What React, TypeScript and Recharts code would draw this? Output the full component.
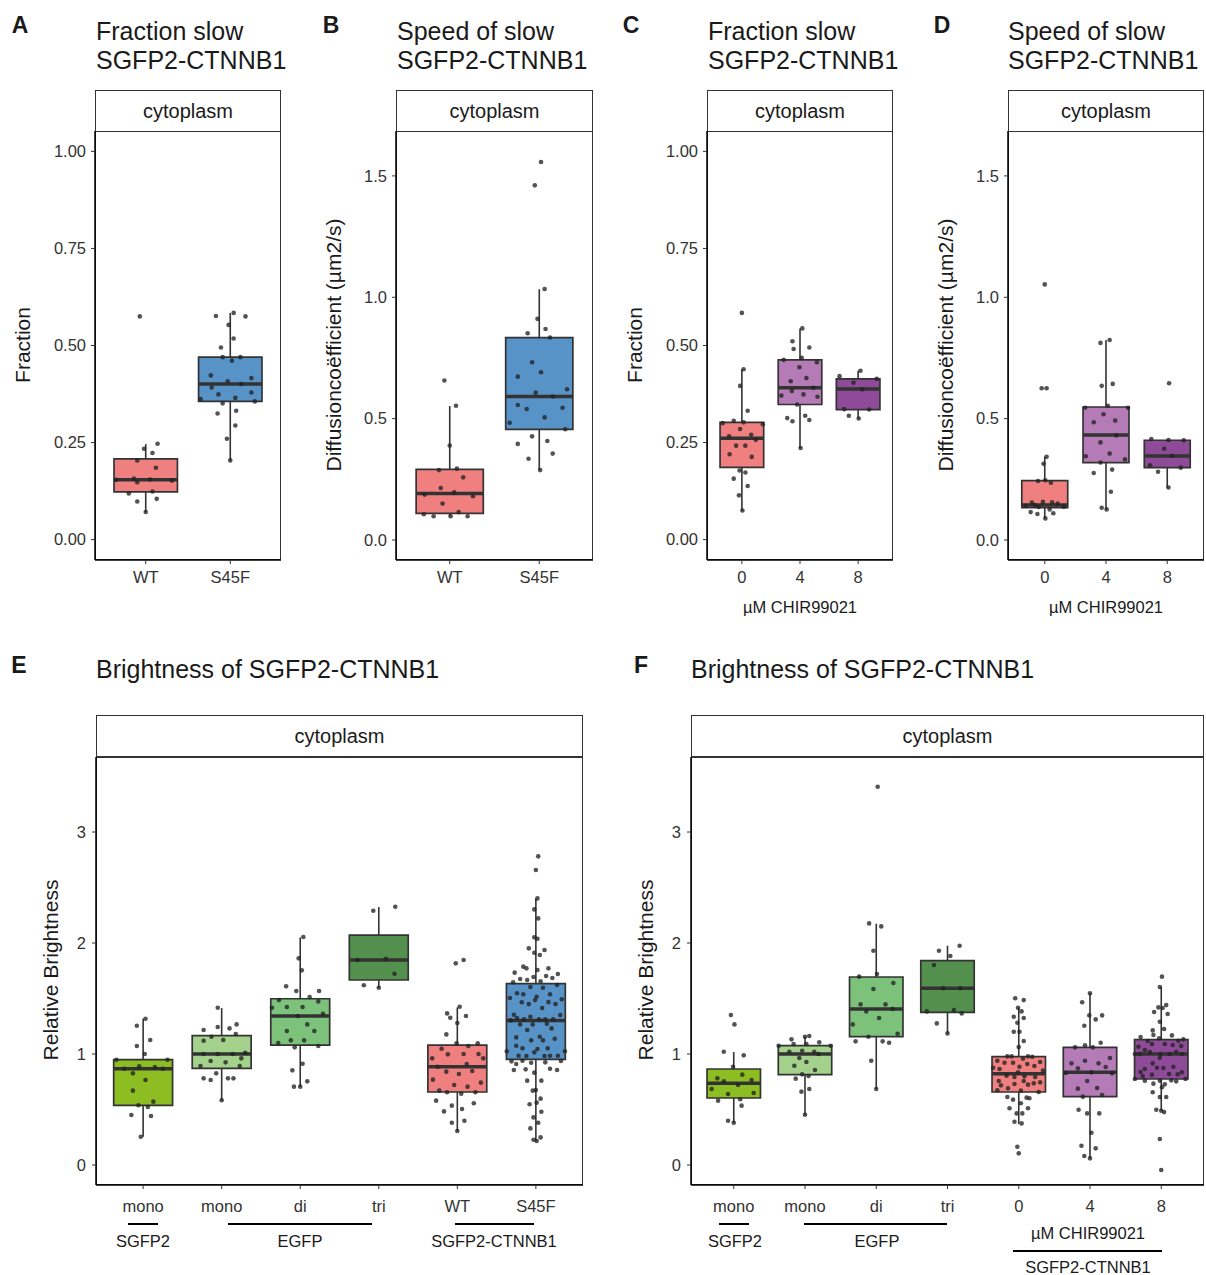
import React from 'react';
import { ComposedChart, XAxis, YAxis, Scatter, ReferenceArea, ReferenceLine } from 'recharts';

// box stats: [lower whisker, q1, median, q3, upper whisker]
type Stat = [number, number, number, number, number];
// jittered point: [horizontal offset in category units, value]
type Pt = [number, number];

const RED = '#F08080';
const BLUE = '#5893C8';
const PURPLE_LIGHT = '#B47BB6';
const PURPLE_DARK = '#8E4B98';
const GREEN_SGFP2 = '#8CBD22';
const GREEN_MONO = '#A4D28C';
const GREEN_DI = '#7DC27B';
const GREEN_TRI = '#53904E';

const mutCats = ['WT', 'S45F'];
const chirCats = ['0', '4', '8'];
const brightMutCats = ['mono', 'mono', 'di', 'tri', 'WT', 'S45F'];
const brightChirCats = ['mono', 'mono', 'di', 'tri', '0', '4', '8'];

// A: fraction slow, WT vs S45F
const fracMutStats: Stat[] = [
    [0.071, 0.123, 0.154, 0.208, 0.246],
    [0.204, 0.356, 0.401, 0.47, 0.584],
];
const fracMutPoints: Pt[][] = [
    [[-0.07, 0.575], [-0.02, 0.234], [0.14, 0.247], [0.08, 0.223], [-0.1, 0.204], [0.12, 0.185], [-0.35, 0.154], [-0.14, 0.157], [-0.1, 0.148], [0.05, 0.155], [0.31, 0.152], [-0.2, 0.119], [0.08, 0.124], [0.13, 0.105], [-0.1, 0.098], [0.0, 0.071]],
    [[-0.17, 0.576], [0.04, 0.584], [0.18, 0.575], [-0.02, 0.553], [0.04, 0.518], [-0.11, 0.495], [-0.09, 0.47], [0.12, 0.47], [0.02, 0.461], [-0.23, 0.423], [-0.03, 0.408], [0.25, 0.416], [0.13, 0.401], [-0.22, 0.392], [-0.14, 0.374], [-0.35, 0.362], [0.06, 0.365], [0.25, 0.379], [0.29, 0.356], [-0.09, 0.351], [-0.15, 0.325], [0.07, 0.332], [0.06, 0.294], [-0.04, 0.26], [0.0, 0.204]],
];

// B: speed of slow, WT vs S45F
const speedMutStats: Stat[] = [
    [0.098, 0.11, 0.192, 0.291, 0.552],
    [0.288, 0.456, 0.591, 0.834, 1.033],
];
const speedMutPoints: Pt[][] = [
    [[-0.06, 0.657], [0.07, 0.553], [0.0, 0.389], [-0.12, 0.288], [0.08, 0.294], [0.15, 0.258], [-0.1, 0.214], [0.05, 0.196], [-0.28, 0.187], [0.26, 0.18], [-0.08, 0.15], [0.1, 0.115], [-0.29, 0.106], [-0.18, 0.098], [0.01, 0.098], [0.2, 0.098]],
    [[0.02, 1.557], [-0.05, 1.461], [0.06, 1.034], [-0.02, 0.911], [0.07, 0.869], [-0.13, 0.852], [0.12, 0.834], [-0.08, 0.732], [0.02, 0.691], [-0.24, 0.673], [0.31, 0.621], [-0.04, 0.607], [0.15, 0.591], [-0.24, 0.556], [-0.14, 0.54], [0.26, 0.545], [0.06, 0.505], [-0.33, 0.483], [0.29, 0.456], [-0.08, 0.427], [-0.24, 0.396], [0.09, 0.408], [0.15, 0.356], [-0.12, 0.335], [0.01, 0.288]],
];

// C: fraction slow, CHIR99021 dose
const fracChirStats: Stat[] = [
    [0.075, 0.186, 0.261, 0.302, 0.439],
    [0.236, 0.348, 0.391, 0.463, 0.544],
    [0.312, 0.335, 0.388, 0.414, 0.435],
];
const fracChirPoints: Pt[][] = [
    [[0.0, 0.584], [0.03, 0.439], [-0.03, 0.396], [0.1, 0.332], [-0.14, 0.306], [0.03, 0.302], [-0.33, 0.3], [0.36, 0.297], [-0.03, 0.285], [-0.22, 0.266], [0.16, 0.27], [0.24, 0.257], [-0.1, 0.242], [0.06, 0.242], [-0.21, 0.22], [0.17, 0.213], [-0.04, 0.178], [0.06, 0.173], [-0.14, 0.157], [0.1, 0.138], [-0.05, 0.114], [0.01, 0.075]],
    [[0.04, 0.544], [-0.13, 0.511], [-0.11, 0.491], [0.16, 0.495], [-0.28, 0.463], [0.03, 0.468], [0.29, 0.457], [-0.01, 0.444], [0.11, 0.416], [-0.16, 0.408], [0.23, 0.391], [-0.14, 0.383], [-0.32, 0.371], [0.06, 0.374], [0.3, 0.368], [-0.05, 0.348], [-0.22, 0.313], [-0.13, 0.305], [0.09, 0.319], [0.16, 0.308], [0.01, 0.236]],
    [[0.04, 0.435], [-0.32, 0.421], [0.32, 0.414], [-0.08, 0.404], [0.07, 0.387], [-0.24, 0.336], [0.19, 0.335], [-0.16, 0.319], [0.01, 0.312]],
];

// D: speed of slow, CHIR99021 dose
const speedChirStats: Stat[] = [
    [0.089, 0.133, 0.144, 0.245, 0.343],
    [0.126, 0.319, 0.433, 0.548, 0.824],
    [0.216, 0.298, 0.346, 0.411, 0.412],
];
const speedChirPoints: Pt[][] = [
    [[0.0, 1.053], [-0.05, 0.625], [0.03, 0.625], [0.03, 0.343], [-0.02, 0.314], [-0.11, 0.243], [0.01, 0.246], [0.1, 0.236], [-0.21, 0.154], [-0.03, 0.157], [0.12, 0.155], [0.21, 0.15], [-0.31, 0.141], [-0.16, 0.144], [0.31, 0.137], [-0.1, 0.136], [0.08, 0.126], [-0.23, 0.115], [-0.12, 0.107], [0.14, 0.11], [0.01, 0.089]],
    [[0.06, 0.824], [-0.09, 0.812], [-0.07, 0.635], [0.11, 0.643], [0.03, 0.553], [-0.34, 0.545], [0.36, 0.545], [-0.04, 0.518], [-0.2, 0.485], [0.15, 0.492], [0.17, 0.431], [-0.09, 0.402], [0.06, 0.356], [-0.33, 0.345], [0.31, 0.332], [-0.09, 0.319], [-0.2, 0.276], [0.1, 0.29], [0.08, 0.199], [-0.07, 0.133], [0.01, 0.126]],
    [[0.03, 0.646], [-0.26, 0.416], [0.02, 0.412], [0.27, 0.411], [-0.05, 0.376], [0.08, 0.347], [-0.28, 0.308], [0.22, 0.298], [-0.15, 0.281], [0.02, 0.216]],
];

// E: brightness, controls + WT / S45F
const brightMutStats: Stat[] = [
    [0.255, 0.538, 0.868, 0.949, 1.318],
    [0.583, 0.871, 1.0, 1.165, 1.414],
    [0.706, 1.081, 1.342, 1.498, 2.051],
    [1.597, 1.667, 1.847, 2.072, 2.324],
    [0.306, 0.658, 0.886, 1.081, 1.42],
    [0.216, 0.952, 1.303, 1.634, 2.402],
];
const brightMutPoints: Pt[][] = [
    [[0.03, 1.318], [-0.08, 1.255], [0.09, 1.126], [-0.08, 1.072], [0.02, 1.0], [-0.34, 0.949], [0.31, 0.949], [-0.24, 0.868], [-0.05, 0.889], [0.15, 0.883], [0.25, 0.868], [-0.13, 0.826], [0.03, 0.766], [-0.13, 0.67], [0.13, 0.571], [-0.06, 0.538], [0.06, 0.523], [-0.15, 0.45], [0.1, 0.441], [-0.03, 0.255]],
    [[-0.05, 1.417], [-0.23, 1.216], [-0.05, 1.243], [0.1, 1.231], [0.19, 1.267], [-0.13, 1.156], [0.18, 1.18], [-0.23, 1.12], [0.02, 1.126], [-0.23, 1.0], [-0.05, 1.0], [0.14, 1.0], [0.3, 1.012], [0.25, 0.961], [-0.14, 0.937], [0.05, 0.925], [-0.27, 0.892], [0.23, 0.892], [-0.07, 0.826], [-0.23, 0.781], [-0.14, 0.766], [0.08, 0.781], [0.15, 0.781], [0.0, 0.583]],
    [[0.04, 2.054], [-0.02, 1.862], [0.02, 1.754], [-0.18, 1.61], [-0.05, 1.568], [0.24, 1.568], [0.12, 1.514], [-0.27, 1.486], [0.23, 1.474], [-0.36, 1.417], [-0.17, 1.423], [0.03, 1.423], [0.29, 1.363], [-0.03, 1.342], [0.09, 1.267], [-0.17, 1.207], [0.18, 1.207], [-0.12, 1.123], [0.05, 1.123], [-0.28, 1.099], [-0.07, 1.06], [0.23, 1.072], [-0.1, 0.853], [0.03, 0.913], [-0.08, 0.706], [0.0, 0.706], [0.09, 0.754]],
    [[0.21, 2.327], [-0.07, 2.291], [-0.27, 1.847], [0.09, 1.859], [0.2, 1.723], [-0.19, 1.619], [0.0, 1.597]],
    [[-0.02, 1.817], [0.08, 1.847], [0.03, 1.426], [-0.13, 1.366], [-0.09, 1.327], [0.11, 1.342], [0.0, 1.279], [-0.14, 1.177], [-0.01, 1.096], [0.26, 1.096], [-0.2, 1.048], [0.14, 1.072], [-0.32, 0.961], [-0.12, 0.997], [0.08, 1.0], [0.27, 1.0], [0.33, 0.961], [-0.25, 0.886], [0.12, 0.91], [-0.14, 0.841], [0.02, 0.82], [0.19, 0.847], [-0.31, 0.769], [-0.04, 0.721], [0.13, 0.706], [0.3, 0.742], [-0.23, 0.67], [-0.13, 0.655], [0.05, 0.643], [0.23, 0.655], [-0.27, 0.58], [-0.07, 0.535], [0.21, 0.556], [-0.17, 0.483], [0.06, 0.505], [-0.07, 0.381], [0.09, 0.399], [0.0, 0.306]],
    [[0.03, 2.781], [0.0, 2.658], [0.02, 2.402], [-0.02, 2.303], [0.03, 2.222], [-0.02, 2.051], [0.02, 2.039], [-0.09, 1.952], [0.11, 1.937], [-0.02, 1.913], [0.05, 1.892], [-0.16, 1.787], [-0.27, 1.733], [-0.12, 1.772], [0.02, 1.757], [0.16, 1.772], [0.28, 1.721], [-0.2, 1.676], [-0.11, 1.667], [-0.03, 1.694], [0.13, 1.703], [0.21, 1.685], [-0.29, 1.646], [0.06, 1.655],
     [-0.07, 1.604], [0.09, 1.597], [0.27, 1.622], [-0.33, 1.505], [-0.24, 1.547], [-0.16, 1.538], [0.01, 1.516], [0.18, 1.538], [0.33, 1.493], [-0.18, 1.466], [-0.09, 1.45], [-0.01, 1.486], [0.16, 1.468], [0.25, 1.45], [0.08, 1.414], [-0.28, 1.354], [-0.24, 1.324], [-0.15, 1.312], [-0.07, 1.336], [0.04, 1.312], [0.12, 1.312], [0.22, 1.312], [0.31, 1.351], [-0.32, 1.303], [-0.2, 1.267], [-0.04, 1.267], [0.14, 1.273], [-0.11, 1.216], [0.2, 1.231], [0.05, 1.156], [0.09, 1.123], [-0.25, 1.15], [-0.06, 1.123], [0.24, 1.138], [-0.25, 1.075], [-0.17, 1.051], [0.02, 1.045], [0.15, 1.051], [-0.02, 1.015], [-0.37, 1.024], [0.37, 1.024], [-0.22, 0.985], [-0.12, 0.982], [0.11, 0.982], [0.18, 0.985], [0.28, 0.985],
     [-0.31, 0.934], [-0.25, 0.91], [-0.17, 0.94], [-0.06, 0.922], [0.12, 0.925], [0.32, 0.937], [-0.28, 0.856], [-0.13, 0.862], [-0.02, 0.832], [0.18, 0.868], [0.27, 0.856], [-0.11, 0.76], [0.07, 0.76], [0.0, 0.676], [-0.04, 0.67], [0.06, 0.598], [0.01, 0.562], [-0.08, 0.547], [0.07, 0.48], [-0.03, 0.429], [0.03, 0.381], [-0.07, 0.33], [0.06, 0.249], [-0.03, 0.228], [0.01, 0.216]],
];

// F: brightness, controls + CHIR99021 dose
const brightChirStats: Stat[] = [
    [0.381, 0.604, 0.736, 0.865, 1.018],
    [0.453, 0.814, 1.0, 1.075, 1.156],
    [0.685, 1.156, 1.405, 1.694, 2.174],
    [1.186, 1.375, 1.592, 1.841, 1.976],
    [0.369, 0.658, 0.823, 0.976, 1.417],
    [0.06, 0.616, 0.835, 1.06, 1.547],
    [0.489, 0.775, 1.0, 1.129, 1.604],
];
const brightChirPoints: Pt[][] = [
    [[-0.04, 1.351], [0.01, 1.267], [-0.14, 1.021], [0.14, 0.988], [-0.01, 0.886], [-0.23, 0.781], [0.12, 0.814], [-0.14, 0.754], [0.25, 0.766], [0.06, 0.721], [-0.31, 0.685], [-0.08, 0.64], [0.28, 0.649], [-0.22, 0.58], [0.09, 0.592], [0.11, 0.535], [-0.08, 0.399], [0.0, 0.381]],
    [[-0.19, 1.132], [0.06, 1.162], [0.0, 1.156], [-0.16, 1.09], [0.02, 1.09], [0.2, 1.105], [-0.37, 1.075], [0.36, 1.075], [-0.22, 1.021], [-0.04, 1.03], [0.13, 1.021], [0.19, 1.0], [-0.08, 0.964], [0.02, 0.928], [-0.15, 0.895], [0.14, 0.856], [-0.04, 0.817], [0.05, 0.802], [-0.13, 0.778], [-0.05, 0.661], [0.06, 0.685], [0.0, 0.453]],
    [[0.02, 3.408], [-0.1, 2.177], [0.07, 2.15], [-0.04, 1.931], [0.01, 1.721], [-0.24, 1.697], [0.24, 1.64], [-0.04, 1.586], [-0.22, 1.447], [0.13, 1.447], [-0.14, 1.384], [0.23, 1.405], [0.04, 1.324], [-0.33, 1.267], [0.3, 1.183], [-0.11, 1.156], [-0.29, 1.114], [0.09, 1.114], [0.18, 1.102], [-0.07, 0.94], [0.0, 0.685]],
    [[0.17, 1.976], [-0.12, 1.931], [0.04, 1.883], [-0.19, 1.802], [-0.06, 1.592], [0.18, 1.592], [0.09, 1.396], [-0.29, 1.384], [0.2, 1.366], [-0.15, 1.276], [0.0, 1.186]],
    [[-0.05, 1.502], [0.07, 1.486], [-0.01, 1.417], [0.04, 1.384], [-0.07, 1.336], [0.07, 1.324], [-0.02, 1.282], [-0.07, 1.201], [0.01, 1.201], [0.07, 1.117], [0.0, 1.063], [-0.16, 0.979], [-0.1, 0.979], [0.06, 0.958], [0.13, 0.979], [0.19, 0.976], [-0.3, 0.94], [-0.2, 0.922], [-0.08, 0.922], [0.01, 0.886], [0.12, 0.91], [0.22, 0.892], [0.3, 0.928], [-0.36, 0.877], [-0.27, 0.865], [0.34, 0.85], [-0.01, 0.835], [-0.17, 0.805], [-0.06, 0.793], [0.08, 0.799], [0.23, 0.793], [-0.28, 0.757], [0.07, 0.757], [-0.25, 0.718], [-0.06, 0.73], [0.13, 0.724], [0.21, 0.736], [0.3, 0.745], [-0.15, 0.691], [0.03, 0.67], [0.28, 0.658], [-0.3, 0.673], [-0.16, 0.613], [-0.08, 0.589], [0.11, 0.607], [0.15, 0.601], [0.03, 0.556], [-0.13, 0.511], [0.13, 0.511], [-0.03, 0.465], [0.05, 0.465], [-0.06, 0.39], [0.04, 0.375], [-0.02, 0.165], [0.0, 0.105]],
    [[0.0, 1.547], [-0.11, 1.466], [-0.01, 1.348], [0.08, 1.312], [0.17, 1.348], [-0.08, 1.255], [0.15, 1.102], [-0.21, 1.06], [-0.07, 1.078], [0.04, 1.06], [-0.26, 0.916], [-0.07, 0.94], [0.12, 0.916], [0.28, 0.964], [-0.17, 0.871], [0.22, 0.883], [-0.34, 0.829], [0.02, 0.835], [0.31, 0.826], [-0.04, 0.757], [-0.17, 0.688], [0.1, 0.694], [-0.1, 0.616], [0.17, 0.631], [-0.16, 0.498], [-0.04, 0.465], [0.13, 0.465], [0.02, 0.291], [-0.12, 0.174], [0.08, 0.15], [-0.08, 0.081], [0.0, 0.06]],
    [[0.01, 1.697], [-0.02, 1.604], [-0.04, 1.42], [0.02, 1.414], [0.07, 1.441], [-0.1, 1.378], [0.09, 1.36], [-0.02, 1.291], [-0.12, 1.213], [0.04, 1.225], [-0.11, 1.171], [0.15, 1.168], [-0.29, 1.153], [-0.19, 1.117], [-0.03, 1.141], [0.24, 1.12], [0.31, 1.132], [-0.32, 1.066], [-0.23, 1.036], [-0.13, 1.09], [0.05, 1.09], [0.16, 1.081], [0.28, 1.072], [-0.37, 1.0], [-0.16, 1.018], [-0.01, 1.0], [0.12, 1.0], [0.21, 1.021], [0.29, 1.0], [-0.3, 1.0], [-0.12, 0.916], [-0.02, 0.967], [0.17, 0.886], [-0.23, 0.865], [-0.06, 0.877], [0.03, 0.874], [-0.29, 0.838], [-0.13, 0.814], [0.11, 0.82], [0.23, 0.817], [0.29, 0.835], [-0.26, 0.802], [-0.37, 0.775], [-0.23, 0.76], [-0.02, 0.76], [0.14, 0.763], [0.21, 0.754], [0.34, 0.775], [-0.11, 0.733], [0.05, 0.727], [-0.12, 0.655], [0.01, 0.7], [-0.02, 0.613], [0.07, 0.613], [-0.07, 0.498], [0.0, 0.489], [0.04, 0.477], [-0.02, 0.234], [0.0, -0.045]],
];

const FONT = '"Liberation Sans", Arial, Helvetica, sans-serif';
const INK = '#1a1a1a';
const BOX_HALF = 0.375;

interface PanelProps {
    left: number;
    top: number;
    width: number;
    height: number;
    domain: [number, number];
    ticks: number[];
    digits: number;
    cats: string[];
    stats: Stat[];
    points: Pt[][];
    colors: string[];
    xGap: number;
    yGap: number;
}

const BoxPanel: React.FC<PanelProps> = ({
    left, top, width, height, domain, ticks, digits, cats, stats, points, colors, xGap, yGap,
}) => {
    const yW = 70;
    const xH = 40;
    const dots = points.flatMap((grp, i) => grp.map(([dx, v]) => ({ x: i + 1 + dx, y: v })));
    return (
        <>
            <div
                style={{
                    position: 'absolute', left, top, width, height,
                    border: '1px solid #333', boxSizing: 'border-box',
                }}
            />
            <div style={{ position: 'absolute', left: left - yW, top }}>
                <ComposedChart
                    width={yW + width}
                    height={height + xH}
                    margin={{ top: 0, right: 0, bottom: 0, left: 0 }}
                >
                    <XAxis
                        type="number"
                        dataKey="x"
                        domain={[0.4, cats.length + 0.6]}
                        ticks={cats.map((_, i) => i + 1)}
                        tickFormatter={(v: number) => cats[Math.round(v) - 1]}
                        interval={0}
                        allowDataOverflow
                        height={xH}
                        tickSize={4}
                        tickMargin={xGap}
                        axisLine={{ stroke: '#000', strokeWidth: 1.5 }}
                        tickLine={{ stroke: '#333' }}
                        tick={{ fontSize: 16.5, fill: '#333' }}
                    />
                    <YAxis
                        type="number"
                        dataKey="y"
                        domain={domain}
                        ticks={ticks}
                        tickFormatter={(v: number) => v.toFixed(digits)}
                        interval={0}
                        allowDataOverflow
                        width={yW}
                        tickSize={4}
                        tickMargin={yGap}
                        axisLine={{ stroke: '#000', strokeWidth: 1.5 }}
                        tickLine={{ stroke: '#333' }}
                        tick={{ fontSize: 16.5, fill: '#333' }}
                    />
                    {stats.map(([lo, q1], i) => (
                        <ReferenceLine
                            key={`lo${i}`}
                            segment={[{ x: i + 1, y: lo }, { x: i + 1, y: q1 }]}
                            stroke="#333"
                            strokeWidth={1.6}
                        />
                    ))}
                    {stats.map(([, , , q3, hi], i) => (
                        <ReferenceLine
                            key={`hi${i}`}
                            segment={[{ x: i + 1, y: q3 }, { x: i + 1, y: hi }]}
                            stroke="#333"
                            strokeWidth={1.6}
                        />
                    ))}
                    {stats.map(([, q1, , q3], i) => (
                        <ReferenceArea
                            key={`box${i}`}
                            x1={i + 1 - BOX_HALF}
                            x2={i + 1 + BOX_HALF}
                            y1={q1}
                            y2={q3}
                            fill={colors[i]}
                            fillOpacity={1}
                            stroke="#333"
                            strokeWidth={1.7}
                        />
                    ))}
                    {stats.map(([, , med], i) => (
                        <ReferenceLine
                            key={`med${i}`}
                            segment={[{ x: i + 1 - BOX_HALF, y: med }, { x: i + 1 + BOX_HALF, y: med }]}
                            stroke="#333"
                            strokeWidth={3.5}
                        />
                    ))}
                    <Scatter
                        data={dots}
                        isAnimationActive={false}
                        shape={(p: any) => (
                            <circle cx={p.cx} cy={p.cy} r={2.3} fill="#222" fillOpacity={0.78} />
                        )}
                    />
                </ComposedChart>
            </div>
        </>
    );
};

interface TxtProps {
    x: number;
    y: number;
    size: number;
    left?: boolean;
    rotate?: boolean;
    bold?: boolean;
    children: React.ReactNode;
}

const Txt: React.FC<TxtProps> = ({ x, y, size, left, rotate, bold, children }) => (
    <div
        style={{
            position: 'absolute', left: x, top: y, fontSize: size, lineHeight: 1,
            whiteSpace: 'nowrap', color: INK, fontWeight: bold ? 700 : 400,
            transform: `translate(${left ? '0' : '-50%'}, -50%)${rotate ? ' rotate(-90deg)' : ''}`,
        }}
    >
        {children}
    </div>
);

const Rule = ({ x1, x2, y }: { x1: number; x2: number; y: number }) => (
    <div style={{ position: 'absolute', left: x1, top: y - 0.75, width: x2 - x1, height: 1.5, background: '#000' }} />
);

const Strip = ({ left, top, width }: { left: number; top: number; width: number }) => (
    <div
        style={{
            position: 'absolute', left, top, width, height: 42, boxSizing: 'border-box',
            border: '1px solid #333', display: 'flex', alignItems: 'center', justifyContent: 'center',
            fontSize: 20, color: INK,
        }}
    >
        cytoplasm
    </div>
);

const App: React.FC = () => {
    const topDomFrac: [number, number] = [-0.0525, 1.0525];
    const topDomSpeed: [number, number] = [-0.0824, 1.685];
    const botDom: [number, number] = [-0.18, 3.676];
    return (
        <div
            style={{
                position: 'absolute', left: 0, top: 0, width: 1206, height: 1275,
                background: '#fff', fontFamily: FONT, overflow: 'hidden',
            }}
        >
            {/* top row headers */}
            <Txt x={20} y={25} size={23} bold>A</Txt>
            <Txt x={96} y={31} size={25} left>Fraction slow</Txt>
            <Txt x={96} y={60} size={25} left>SGFP2-CTNNB1</Txt>
            <Txt x={331} y={25} size={23} bold>B</Txt>
            <Txt x={397} y={31} size={25} left>Speed of slow</Txt>
            <Txt x={397} y={60} size={25} left>SGFP2-CTNNB1</Txt>
            <Txt x={631} y={25} size={23} bold>C</Txt>
            <Txt x={708} y={31} size={25} left>Fraction slow</Txt>
            <Txt x={708} y={60} size={25} left>SGFP2-CTNNB1</Txt>
            <Txt x={942} y={25} size={23} bold>D</Txt>
            <Txt x={1008} y={31} size={25} left>Speed of slow</Txt>
            <Txt x={1008} y={60} size={25} left>SGFP2-CTNNB1</Txt>

            <Strip left={95} top={90} width={186} />
            <Strip left={396} top={90} width={197} />
            <Strip left={707} top={90} width={186} />
            <Strip left={1008} top={90} width={196} />

            <BoxPanel left={95} top={131} width={186} height={429} domain={topDomFrac} ticks={[0, 0.25, 0.5, 0.75, 1]} digits={2}
                cats={mutCats} stats={fracMutStats} points={fracMutPoints} colors={[RED, BLUE]} xGap={7} yGap={5} />
            <BoxPanel left={396} top={131} width={197} height={429} domain={topDomSpeed} ticks={[0, 0.5, 1, 1.5]} digits={1}
                cats={mutCats} stats={speedMutStats} points={speedMutPoints} colors={[RED, BLUE]} xGap={7} yGap={5} />
            <BoxPanel left={707} top={131} width={186} height={429} domain={topDomFrac} ticks={[0, 0.25, 0.5, 0.75, 1]} digits={2}
                cats={chirCats} stats={fracChirStats} points={fracChirPoints} colors={[RED, PURPLE_LIGHT, PURPLE_DARK]} xGap={7} yGap={5} />
            <BoxPanel left={1008} top={131} width={196} height={429} domain={topDomSpeed} ticks={[0, 0.5, 1, 1.5]} digits={1}
                cats={chirCats} stats={speedChirStats} points={speedChirPoints} colors={[RED, PURPLE_LIGHT, PURPLE_DARK]} xGap={7} yGap={5} />

            <Txt x={22} y={345} size={21} rotate>Fraction</Txt>
            <Txt x={333} y={345} size={21} rotate>Diffusioncoëfficient (µm2/s)</Txt>
            <Txt x={634} y={345} size={21} rotate>Fraction</Txt>
            <Txt x={945} y={345} size={21} rotate>Diffusioncoëfficient (µm2/s)</Txt>
            <Txt x={800} y={607} size={16.5}>µM CHIR99021</Txt>
            <Txt x={1106} y={607} size={16.5}>µM CHIR99021</Txt>

            {/* bottom row */}
            <Txt x={19} y={665} size={23} bold>E</Txt>
            <Txt x={96} y={669} size={25} left>Brightness of SGFP2-CTNNB1</Txt>
            <Txt x={641} y={665} size={23} bold>F</Txt>
            <Txt x={691} y={669} size={25} left>Brightness of SGFP2-CTNNB1</Txt>

            <Strip left={96} top={715} width={487} />
            <Strip left={691} top={715} width={513} />

            <BoxPanel left={96} top={757} width={487} height={428} domain={botDom} ticks={[0, 1, 2, 3]} digits={0}
                cats={brightMutCats} stats={brightMutStats} points={brightMutPoints}
                colors={[GREEN_SGFP2, GREEN_MONO, GREEN_DI, GREEN_TRI, RED, BLUE]} xGap={11} yGap={6} />
            <BoxPanel left={691} top={757} width={513} height={428} domain={botDom} ticks={[0, 1, 2, 3]} digits={0}
                cats={brightChirCats} stats={brightChirStats} points={brightChirPoints}
                colors={[GREEN_SGFP2, GREEN_MONO, GREEN_DI, GREEN_TRI, RED, PURPLE_LIGHT, PURPLE_DARK]} xGap={11} yGap={6} />

            <Txt x={50} y={970} size={21} rotate>Relative Brightness</Txt>
            <Txt x={645} y={970} size={21} rotate>Relative Brightness</Txt>

            <Rule x1={128} x2={158} y={1224} />
            <Rule x1={228} x2={372} y={1224} />
            <Rule x1={455} x2={534} y={1224} />
            <Txt x={143} y={1241} size={16.5}>SGFP2</Txt>
            <Txt x={300} y={1241} size={16.5}>EGFP</Txt>
            <Txt x={494} y={1241} size={16.5}>SGFP2-CTNNB1</Txt>

            <Rule x1={719} x2={749} y={1224} />
            <Rule x1={804} x2={947} y={1224} />
            <Txt x={735} y={1241} size={16.5}>SGFP2</Txt>
            <Txt x={877} y={1241} size={16.5}>EGFP</Txt>
            <Txt x={1088} y={1233} size={16.5}>µM CHIR99021</Txt>
            <Rule x1={1013} x2={1162} y={1251} />
            <Txt x={1088} y={1267} size={16.5}>SGFP2-CTNNB1</Txt>
        </div>
    );
};

export default App;
